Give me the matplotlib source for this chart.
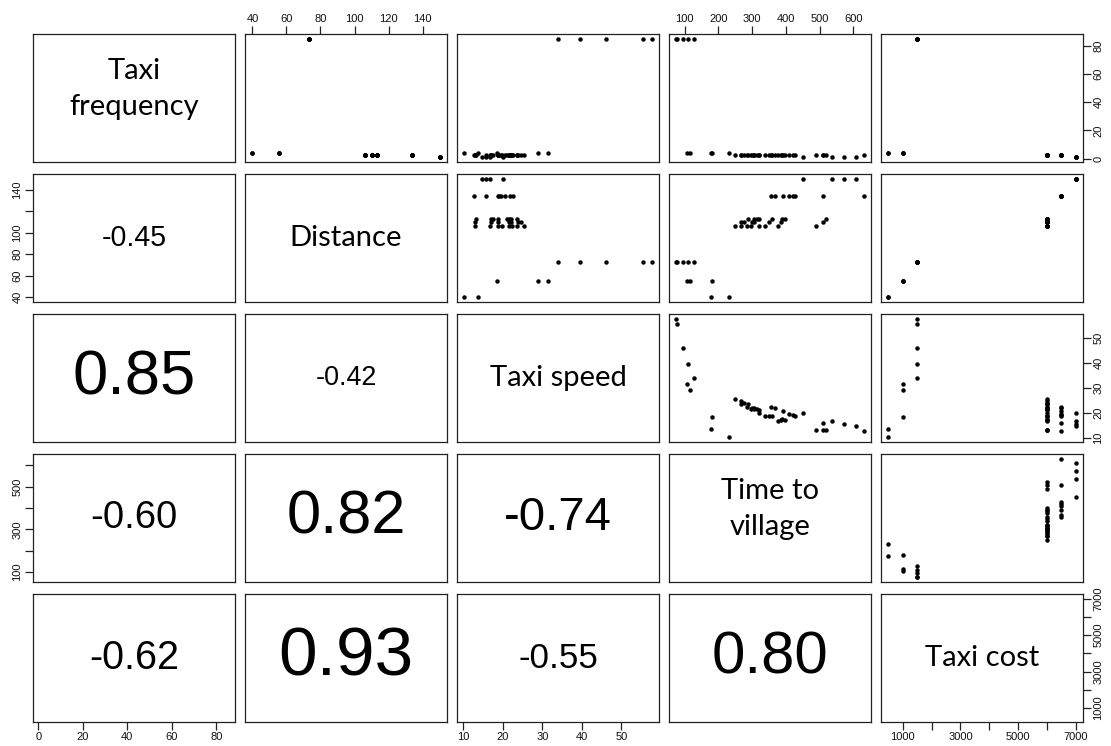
import numpy as np
import matplotlib
matplotlib.use('Agg')
from matplotlib import pyplot as plt

matplotlib.rcParams['font.family'] = ['Liberation Sans', 'DejaVu Sans']

names = ['Taxi\nfrequency', 'Distance', 'Taxi speed', 'Time to\nvillage', 'Taxi cost']

# one value per village, grouped by taxi route
frequency = [4.3, 4.3,
             4.3, 4.3, 4.3,
             85, 85, 85, 85, 85,
             2.4, 2.4, 2.4, 2.4, 2.4, 2.4, 2.4, 2.4,
             2.4, 2.4, 2.4, 2.4, 2.4, 2.4, 2.4,
             2.4, 2.4, 2.4, 2.4, 2.4, 2.4, 2.4, 2.4,
             2.4, 2.4, 2.4, 2.4, 2.4, 2.4, 2.4, 2.4,
             1.0, 1.0, 1.0, 1.0]
distance = [40, 40,
            55.5, 55.5, 55.5,
            73, 73, 73, 73, 73,
            106, 106, 106, 106, 106, 106, 106, 106,
            110, 110, 110, 110, 110, 110, 110,
            113, 113, 113, 113, 113, 113, 113, 113,
            134, 134, 134, 134, 134, 134, 134, 134,
            150, 150, 150, 150]
speed = [13.6, 10.3,
         31.4, 29.0, 18.5,
         57.6, 55.4, 46.1, 39.5, 34.0,
         25.4, 23.7, 22.2, 21.5, 19.8, 18.8, 16.8, 13.0,
         24.6, 23.9, 22.1, 21.5, 18.9, 17.1, 13.0,
         23.5, 22.1, 21.6, 21.1, 18.9, 17.4, 17.0, 13.1,
         22.5, 21.8, 20.6, 19.6, 19.1, 18.8, 15.8, 12.8,
         20.0, 16.8, 15.7, 14.8]
time_to_village = [177, 232,
                   106, 115, 180,
                   76, 79, 95, 111, 129,
                   250, 268, 286, 296, 321, 339, 378, 489,
                   268, 276, 299, 307, 349, 385, 509,
                   288, 307, 314, 321, 359, 390, 398, 519,
                   357, 368, 391, 410, 420, 428, 509, 630,
                   450, 537, 572, 609]
cost = [500, 500,
        1000, 1000, 1000,
        1500, 1500, 1500, 1500, 1500,
        6000, 6000, 6000, 6000, 6000, 6000, 6000, 6000,
        6000, 6000, 6000, 6000, 6000, 6000, 6000,
        6000, 6000, 6000, 6000, 6000, 6000, 6000, 6000,
        6500, 6500, 6500, 6500, 6500, 6500, 6500, 6500,
        7000, 7000, 7000, 7000]

# correlations for the lower triangle, row by row
cor_values = [-0.45,
              0.85, -0.42,
              -0.60, 0.82, -0.74,
              -0.62, 0.93, -0.55, 0.80]

# axis ticks per variable; '' where R dropped an overlapping label
ticks = [[0, 20, 40, 60, 80],
         [40, 60, 80, 100, 120, 140],
         [10, 20, 30, 40, 50],
         [100, 200, 300, 400, 500, 600],
         [1000, 2000, 3000, 4000, 5000, 6000, 7000]]
side_labels = [['0', '20', '40', '60', '80'],
               ['40', '60', '80', '100', '', '140'],
               ['10', '20', '30', '40', '50'],
               ['100', '', '300', '', '500', ''],
               ['1000', '', '3000', '', '5000', '', '7000']]
topbot_labels = [['0', '20', '40', '60', '80'],
                 ['40', '60', '80', '100', '120', '140'],
                 ['10', '20', '30', '40', '50'],
                 ['100', '200', '300', '400', '500', '600'],
                 ['1000', '', '3000', '', '5000', '', '7000']]

data = [np.array(v, dtype=float) for v in
        (frequency, distance, speed, time_to_village, cost)]
lims = []
for v in data:
    pad = 0.04 * (v.max() - v.min())
    lims.append((v.min() - pad, v.max() + pad))

W, H = 1111, 746
fig = plt.figure(figsize=(W / 100, H / 100), dpi=100)
renderer = fig.canvas.get_renderer()

col_x = [33, 245, 457, 669, 881]
row_y = [34, 174, 314, 454, 594]
pw, ph = 202, 128

n = 5
k = 0
for i in range(n):
    for j in range(n):
        ax = fig.add_axes([col_x[j] / W, 1 - (row_y[i] + ph) / H, pw / W, ph / H])
        ax.set_xlim(lims[j])
        ax.set_ylim(lims[i])
        for s in ax.spines.values():
            s.set_color('#222222')
            s.set_linewidth(0.9)
        ax.set_xticks([])
        ax.set_yticks([])

        if i < j:
            ax.plot(data[j], data[i], 'o', ms=2.2, color='black', mec='black')
        elif i == j:
            yc = 0.57 if '\n' in names[i] else 0.5
            ax.text(0.5, yc, names[i], transform=ax.transAxes, ha='center',
                    va='center', fontsize=21, family=['Lato', 'DejaVu Sans'],
                    linespacing=1.45)
        else:
            r = cor_values[k]
            k += 1
            txt = f'{r:.2f}'
            t = ax.text(0.5, 0.5, txt, transform=ax.transAxes, ha='center',
                        va='center', fontsize=20)
            w = t.get_window_extent(renderer).width
            # text width grows with |r|, as in the usual panel.cor
            t.set_fontsize(20 * 0.72 * abs(r) * pw / w)

        tp = dict(length=5.5, width=0.9, color='#222222', labelsize=8,
                  labelcolor='#111111', pad=2)
        # R's pairs() alternates the outer axes
        if i == 0 and j % 2 == 1:
            ax.set_xticks(ticks[j], topbot_labels[j])
            ax.xaxis.tick_top()
            ax.tick_params(axis='x', **tp)
        if i == n - 1 and j % 2 == 0:
            ax.set_xticks(ticks[j], topbot_labels[j])
            ax.tick_params(axis='x', **tp)
        if j == 0 and i % 2 == 1:
            ax.set_yticks(ticks[i], side_labels[i])
            ax.tick_params(axis='y', **tp)
            for lab in ax.get_yticklabels():
                lab.set_rotation(90)
                lab.set_va('center')
        if j == n - 1 and i % 2 == 0:
            ax.set_yticks(ticks[i], side_labels[i])
            ax.yaxis.tick_right()
            ax.tick_params(axis='y', **tp)
            for lab in ax.get_yticklabels():
                lab.set_rotation(90)
                lab.set_va('center')

fig.savefig('out.png', dpi=100)
